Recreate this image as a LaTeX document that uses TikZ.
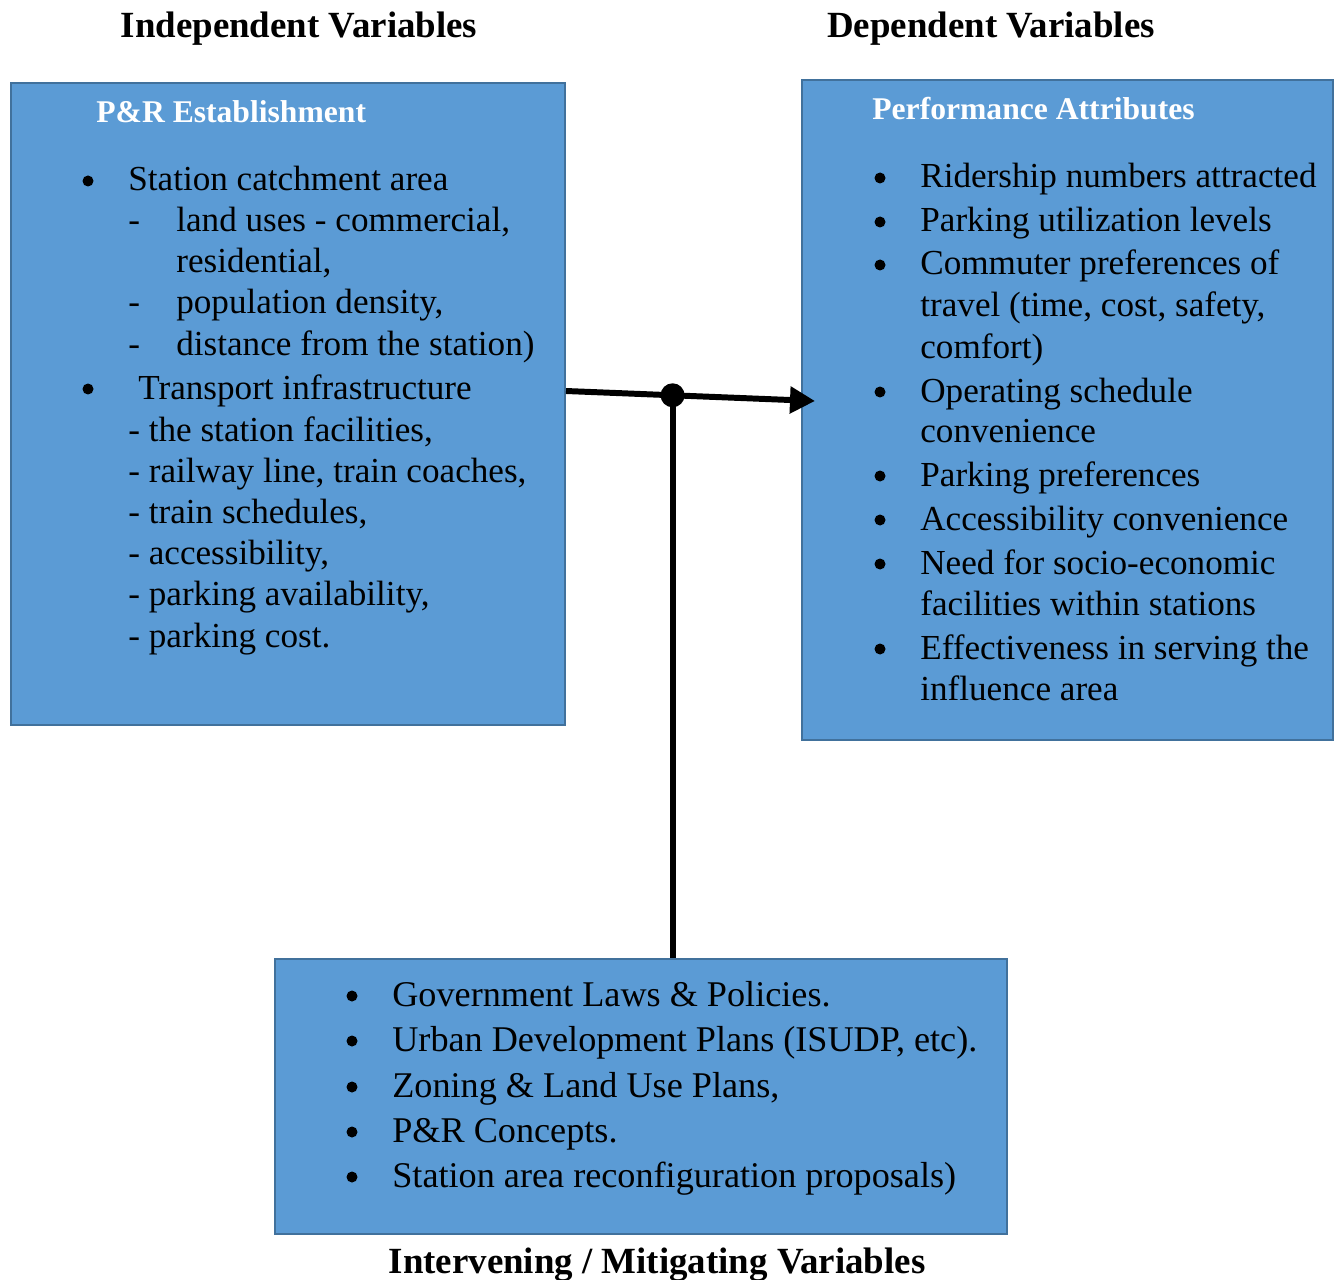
\documentclass[tikz,border=0pt]{standalone}
\usepackage{fontspec}
\setmainfont{Liberation Serif}
\usetikzlibrary{arrows.meta}

\definecolor{boxblue}{HTML}{5B9BD5}
\definecolor{boxedge}{HTML}{41719C}

\tikzset{
	varbox/.style={draw=boxedge, line width=1.2pt, fill=boxblue, inner sep=0pt},
	heading/.style={anchor=base, inner sep=0pt, font=\fontsize{21}{25}\selectfont\bfseries},
	boxhead/.style={anchor=base west, inner sep=0pt, text=white, font=\fontsize{18}{22}\selectfont\bfseries},
	item/.style={anchor=base west, inner sep=0pt, font=\fontsize{20}{24}\selectfont},
	bitem/.style={item, font=\fontsize{20.6}{24}\selectfont},
	bul/.style={circle, fill=black, inner sep=0pt, minimum size=0.22cm},
	link/.style={line width=3.4pt},
	junction/.style={circle, fill=black, inner sep=0pt, minimum size=0.48cm},
}

\begin{document}
\begin{tikzpicture}[x=0.02cm, y=-0.02cm]
	\useasboundingbox (0,0) rectangle (1335,1280);

	%boxes
	\node[varbox, minimum width=11.08cm, minimum height=12.84cm] (lbox) at (288,404) {};
	\node[varbox, minimum width=10.62cm, minimum height=13.2cm] (rbox) at (1067.5,410) {};
	\node[varbox, minimum width=14.64cm, minimum height=5.5cm] (bbox) at (641,1096.5) {};

	%titles
	\node[heading] (tind) at (299,38) {Independent Variables};
	\node[heading] (tdep) at (991,38) {Dependent Variables};
	\node[heading] (tint) at (657,1273) {Intervening / Mitigating Variables};
	\node[boxhead] (hest) at (96,123) {P\&R Establishment};
	\node[boxhead] (hperf) at (872,120) {Performance Attributes};

	%independent variables
	\node[bul] (lb1) at (88,181) {};
	\node[bul] (lb2) at (88,389) {};
	\node[item] (ls1) at (128,191) {Station catchment area};
	\foreach \n/\y in {1/232,2/314,3/356}
		\node[item] (ld\n) at (128,\y) {-};
	\foreach \n/\y/\t in {1/232/{land uses - commercial,}, 2/273/{residential,},
		3/314/{population density,}, 4/356/{distance from the station)}}
		\node[item] (lc\n) at (176,\y) {\t};
	\node[item] (ls2) at (138,399) {Transport infrastructure};
	\foreach \n/\y/\t in {1/441/{- the station facilities,}, 2/482/{- railway line, train coaches,},
		3/523/{- train schedules,}, 4/564/{- accessibility,}, 5/605/{- parking availability,},
		6/647/{- parking cost.}}
		\node[item] (lt\n) at (128,\y) {\t};

	%dependent variables
	\foreach \n/\y in {1/188,2/232,3/275,4/402,5/486,6/530,7/574,8/659}
		\node[bul] (rb\n) at (880,\y-10) {};
	\foreach \n/\y/\t in {1/188/{Ridership numbers attracted}, 2/232/{Parking utilization levels},
		3/275/{Commuter preferences of}, 4/317/{travel (time, cost, safety,}, 5/358/{comfort)},
		6/402/{Operating schedule}, 7/442/{convenience}, 8/486/{Parking preferences},
		9/530/{Accessibility convenience}, 10/574/{Need for socio-economic},
		11/615/{facilities within stations}, 12/659/{Effectiveness in serving the},
		13/700/{influence area}}
		\node[item] (rt\n) at (920,\y) {\t};

	%intervening variables
	\foreach \n/\y/\t in {1/1006/{Government Laws \& Policies.}, 2/1051/{Urban Development Plans (ISUDP, etc).},
		3/1097/{Zoning \& Land Use Plans,}, 4/1142/{P\&R Concepts.},
		5/1187/{Station area reconfiguration proposals)}}
	{
		\node[bul] (bb\n) at (352,\y-10) {};
		\node[bitem] (bt\n) at (392,\y) {\t};
	}

	%connectors
	\coordinate (tip) at (815,401);
	\draw[link, -{Triangle[length=5mm, width=5.2mm]}] (lbox.east |- 0,391) -- node[pos=0.428, junction] (jn) {} (tip);
	\draw[link] (jn.center) -- (jn.center |- bbox.north);
\end{tikzpicture}
\end{document}
